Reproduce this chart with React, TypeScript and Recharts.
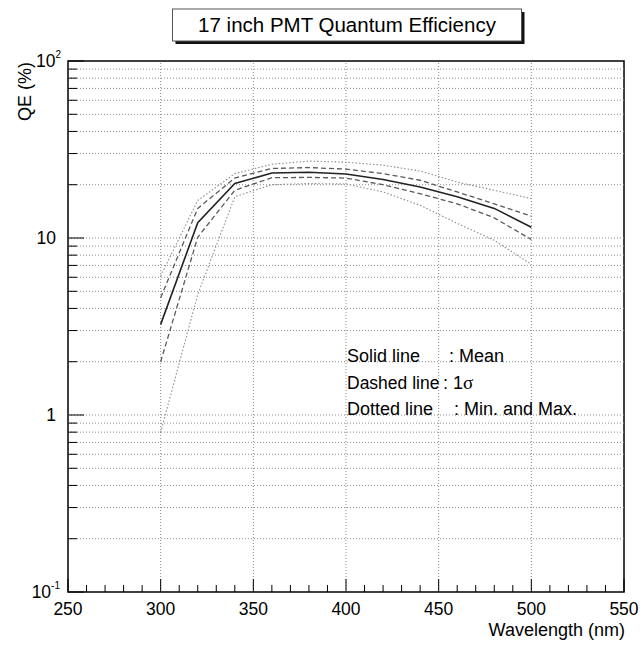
import { LineChart, Line, XAxis, YAxis, ReferenceLine, ReferenceArea } from 'recharts'

const wavelengths = [300, 320, 340, 360, 380, 400, 420, 440, 460, 480, 500]
const meanQE = [3.25, 12.2, 20.3, 23.3, 23.5, 23.0, 21.4, 19.4, 17.1, 14.7, 11.5]
const sigmaUpQE = [4.6, 14.7, 21.8, 24.7, 25.0, 24.5, 23.1, 21.2, 18.2, 15.6, 13.3]
const sigmaDownQE = [2.0, 10.1, 18.6, 21.9, 22.0, 21.8, 20.0, 17.8, 15.6, 13.0, 9.8]
const maxQE = [6.1, 16.3, 23.1, 26.1, 27.2, 26.8, 25.8, 23.9, 20.7, 18.6, 16.7]
const minQE = [0.8, 4.8, 17.1, 20.0, 20.3, 20.2, 18.2, 15.3, 12.1, 9.7, 7.1]

const xMajor = [250, 300, 350, 400, 450, 500, 550]
const xTicks = Array.from({ length: 31 }, (_, i) => 250 + i * 10)
const yTicks = [0.1, 0.2, 0.3, 0.4, 0.5, 0.6, 0.7, 0.8, 0.9, 1, 2, 3, 4, 5, 6, 7, 8, 9, 10, 20, 30, 40, 50, 60, 70, 80, 90, 100]
const yMajor = [0.1, 1, 10, 100]

const FONT = '"Liberation Sans", Arial, Helvetica, sans-serif'
const GRID = '#8a8a8a'

const data = wavelengths.map((w, i) => ({
  wl: w,
  mean: meanQE[i],
  up: sigmaUpQE[i],
  down: sigmaDownQE[i],
  max: maxQE[i],
  min: minQE[i]
}))

function XTick({ x, y, payload }: any) {
  const v = payload.value
  const major = xMajor.includes(v)
  return (
    <g>
      <line x1={x} x2={x} y1={y} y2={y - (major ? 13 : 7)} stroke="#000" strokeWidth={1} />
      {major && (
        <text x={x} y={y + 23} textAnchor="middle" fontSize={17.5} fontFamily={FONT} fill="#000">
          {v}
        </text>
      )}
    </g>
  )
}

function YTick({ x, y, payload }: any) {
  const v = payload.value
  const major = yMajor.includes(v)
  let label: any = null
  if (v === 100) {
    label = (
      <text x={x - 7} y={y + 6} textAnchor="end" fontSize={17.5} fontFamily={FONT} fill="#000">
        10<tspan dy={-9} fontSize={10}>2</tspan>
      </text>
    )
  } else if (v === 0.1) {
    label = (
      <text x={x - 8} y={y + 6} textAnchor="end" fontSize={17.5} fontFamily={FONT} fill="#000">
        10<tspan dy={-9} fontSize={10}>-1</tspan>
      </text>
    )
  } else if (v === 10 || v === 1) {
    label = (
      <text x={x - 12} y={y + 6} textAnchor="end" fontSize={17.5} fontFamily={FONT} fill="#000">
        {v}
      </text>
    )
  }
  return (
    <g>
      <line x1={x} x2={x + (major ? 16 : 9)} y1={y} y2={y} stroke="#000" strokeWidth={1} />
      {label}
    </g>
  )
}

export default function App() {
  return (
    <div style={{ position: 'absolute', left: 0, top: 0, width: 641, height: 648, background: '#fff' }}>
      <LineChart width={641} height={648} data={data} margin={{ top: 61, right: 17, left: 0, bottom: 0 }}>
        <XAxis
          dataKey="wl"
          type="number"
          domain={[250, 550]}
          allowDataOverflow
          ticks={xTicks}
          interval={0}
          tickSize={0}
          tickMargin={0}
          tickLine={false}
          axisLine={false}
          height={56}
          tick={<XTick />}
        />
        <YAxis
          type="number"
          scale="log"
          domain={[0.1, 100]}
          allowDataOverflow
          ticks={yTicks}
          interval={0}
          tickSize={0}
          tickMargin={0}
          tickLine={false}
          axisLine={false}
          width={68}
          tick={<YTick />}
        />
        {yTicks.filter((v) => v !== 0.1 && v !== 100).map((v) => (
          <ReferenceLine key={'h' + v} y={v} stroke={GRID} strokeDasharray="1 2" strokeWidth={1} />
        ))}
        {xMajor.filter((v) => v !== 250 && v !== 550).map((v) => (
          <ReferenceLine key={'v' + v} x={v} stroke={GRID} strokeDasharray="1 2" strokeWidth={1} />
        ))}
        <ReferenceArea x1={250} x2={550} y1={0.1} y2={100} fill="none" stroke="#000" strokeWidth={1.5} />
        <Line dataKey="max" stroke="#8c8c8c" strokeWidth={1.1} strokeDasharray="1.5 2" dot={false} isAnimationActive={false} />
        <Line dataKey="min" stroke="#8c8c8c" strokeWidth={1.1} strokeDasharray="1.5 2" dot={false} isAnimationActive={false} />
        <Line dataKey="up" stroke="#5a5a5a" strokeWidth={1.3} strokeDasharray="5 3" dot={false} isAnimationActive={false} />
        <Line dataKey="down" stroke="#5a5a5a" strokeWidth={1.3} strokeDasharray="5 3" dot={false} isAnimationActive={false} />
        <Line dataKey="mean" stroke="#222" strokeWidth={1.6} dot={false} isAnimationActive={false} />
      </LineChart>
      <svg
        width={641}
        height={648}
        style={{ position: 'absolute', left: 0, top: 0, pointerEvents: 'none' }}
        fontFamily={FONT}
      >
        <rect x={175.5} y={12} width={349} height={32} fill="#111" />
        <rect x={172.5} y={9} width={349} height={32} fill="#fff" stroke="#555" strokeWidth={1} />
        <text x={347} y={32} textAnchor="middle" fontSize={20.5} fill="#000">
          17 inch PMT Quantum Efficiency
        </text>
        <text transform="translate(31,62) rotate(-90)" textAnchor="end" fontSize={18} fill="#000">
          QE (%)
        </text>
        <text x={625} y={636} textAnchor="end" fontSize={18} fill="#000">
          Wavelength (nm)
        </text>
        <text x={347} y={362} fontSize={18} fill="#000">Solid line</text>
        <text x={449} y={362} fontSize={18} fill="#000">: Mean</text>
        <text x={347} y={389} fontSize={17.5} fill="#000">Dashed line</text>
        <text x={443} y={389} fontSize={18} fill="#000">
          : 1<tspan fontFamily='"Liberation Serif", "Times New Roman", serif' fontSize={19}>σ</tspan>
        </text>
        <text x={347} y={415} fontSize={18} fill="#000">Dotted line</text>
        <text x={454} y={415} fontSize={18} fill="#000">: Min. and Max.</text>
      </svg>
    </div>
  )
}
